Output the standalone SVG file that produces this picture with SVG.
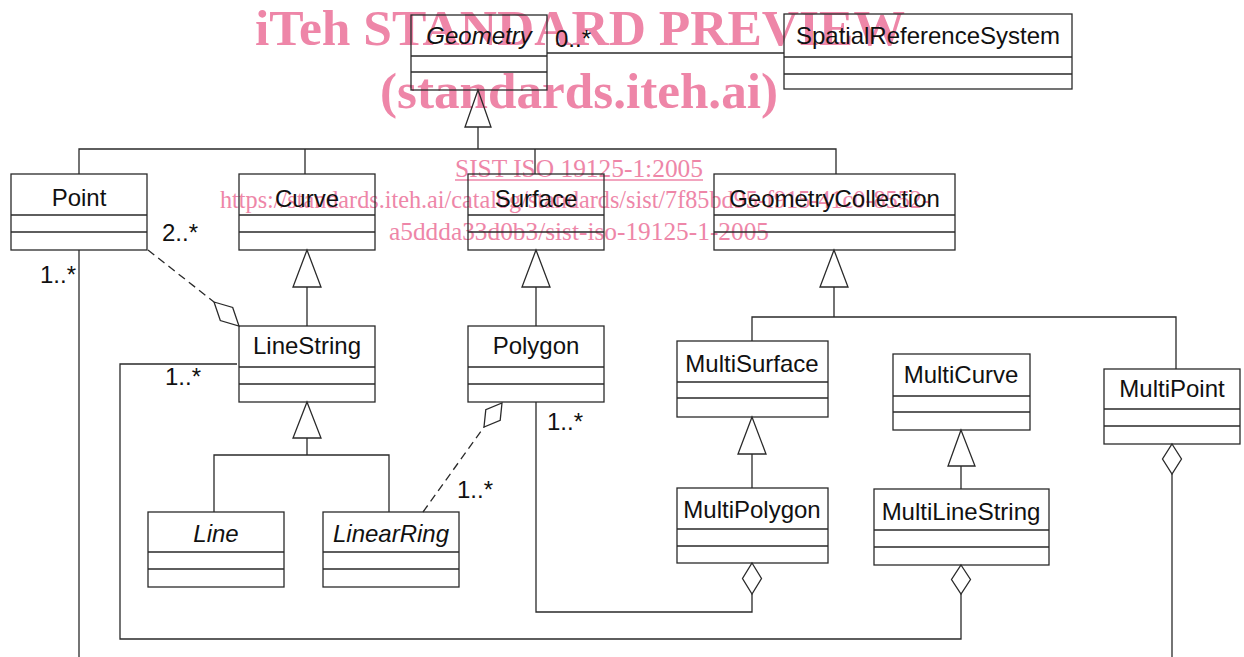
<svg xmlns="http://www.w3.org/2000/svg" width="1244" height="657" viewBox="0 0 1244 657">
<style>
.box{fill:none;stroke:#2a2a2a;stroke-width:1.3}
.ln{fill:none;stroke:#2a2a2a;stroke-width:1.3}
.dash{fill:none;stroke:#2a2a2a;stroke-width:1.3;stroke-dasharray:8 5}
.tri{fill:none;stroke:#2a2a2a;stroke-width:1.3;stroke-linejoin:miter}
.dia{fill:#fff;stroke:#2a2a2a;stroke-width:1.3}
.name{font-family:"Liberation Sans",Arial,Helvetica,sans-serif;font-size:24px;fill:#111;text-anchor:middle}
.it{font-style:italic}
.lbl{font-family:"Liberation Sans",Arial,Helvetica,sans-serif;font-size:24px;fill:#111}
.wmb{font-family:"Liberation Serif","Times New Roman",serif;font-weight:bold;font-size:50px;fill:#ee86a8}
.wmr{font-family:"Liberation Serif","Times New Roman",serif;font-size:25px;fill:#ee86a8}
</style>
<g id="watermark">
<text class="wmb" x="255" y="45" textLength="650" lengthAdjust="spacingAndGlyphs">iTeh STANDARD PREVIEW</text>
<text class="wmb" x="380" y="108" textLength="398" lengthAdjust="spacingAndGlyphs">(standards.iteh.ai)</text>
<text class="wmr" x="455" y="177" textLength="248" lengthAdjust="spacingAndGlyphs">SIST ISO 19125-1:2005</text>
<line x1="455" y1="180" x2="703" y2="180" stroke="#ee86a8" stroke-width="1.3"/>
<text class="wmr" x="220" y="208" textLength="710" lengthAdjust="spacingAndGlyphs">https://standards.iteh.ai/catalog/standards/sist/7f85bd95-f915-41c0-8552-</text>
<text class="wmr" x="389" y="240" textLength="380" lengthAdjust="spacingAndGlyphs">a5ddda33d0b3/sist-iso-19125-1-2005</text>
</g>
<g id="connectors">
<line class="ln" x1="547" y1="53" x2="784" y2="53"/>
<text class="lbl" x="555" y="47">0..*</text>
<polygon class="tri" points="478,90 465,127 491,127"/>
<path class="ln" d="M478,127 V149 M79,174 V149 H836 V174 M305,149 V174 M535,149 V174"/>
<polygon class="tri" points="307,250 293,287 321,287"/>
<line class="ln" x1="307" y1="287" x2="307" y2="326"/>
<polygon class="tri" points="536,250 522,287 550,287"/>
<line class="ln" x1="536" y1="287" x2="536" y2="326"/>
<polygon class="tri" points="834,250 820,287 848,287"/>
<path class="ln" d="M834,287 V317 M752,341 V317 H1176 V369"/>
<polygon class="tri" points="752,417 738,454 766,454"/>
<line class="ln" x1="752" y1="454" x2="752" y2="488"/>
<polygon class="tri" points="961,430 948,466 975,466"/>
<line class="ln" x1="961" y1="466" x2="961" y2="489"/>
<polygon class="tri" points="307,402 293,438 321,438"/>
<path class="ln" d="M307,438 V455 M214,512 V455 H389 V512"/>
<line class="dash" x1="148" y1="250" x2="214" y2="302"/>
<polygon class="dia" points="214,302 232.7,307.5 239,326 220.3,320.5"/>
<text class="lbl" x="162" y="241">2..*</text>
<line class="dash" x1="423" y1="512" x2="484" y2="427"/>
<polygon class="dia" points="502,403 500.2,420.4 484,427 485.8,409.6"/>
<text class="lbl" x="457" y="498">1..*</text>
<line class="ln" x1="79" y1="250" x2="79" y2="657"/>
<text class="lbl" x="40" y="283">1..*</text>
<path class="ln" d="M237,364 H120 V639 H961 V594"/>
<polygon class="dia" points="961,565 970.5,579.5 961,594 951.5,579.5"/>
<text class="lbl" x="165" y="385">1..*</text>
<path class="ln" d="M536,402 V612 H752 V594"/>
<polygon class="dia" points="752,563 761.5,578.5 752,594 742.5,578.5"/>
<text class="lbl" x="547" y="430">1..*</text>
<polygon class="dia" points="1172,444 1181.5,459 1172,474 1162.5,459"/>
<line class="ln" x1="1172" y1="474" x2="1172" y2="657"/>
</g>
<g id="Geometry"><rect class="box" x="411" y="15" width="136" height="75"/><path class="ln" d="M411,56 H547 M411,72 H547"/><text class="name it" x="479" y="44">Geometry</text></g>
<g id="SpatialReferenceSystem"><rect class="box" x="784" y="14" width="288" height="75"/><path class="ln" d="M784,57 H1072 M784,74 H1072"/><text class="name" x="928" y="44">SpatialReferenceSystem</text></g>
<g id="Point"><rect class="box" x="11" y="174" width="136" height="76"/><path class="ln" d="M11,215 H147 M11,232 H147"/><text class="name" x="79" y="206">Point</text></g>
<g id="Curve"><rect class="box" x="239" y="174" width="136" height="76"/><path class="ln" d="M239,215 H375 M239,232 H375"/><text class="name" x="307" y="207">Curve</text></g>
<g id="Surface"><rect class="box" x="468" y="174" width="136" height="76"/><path class="ln" d="M468,215 H604 M468,232 H604"/><text class="name" x="536" y="207">Surface</text></g>
<g id="GeometryCollection"><rect class="box" x="714" y="174" width="241" height="76"/><path class="ln" d="M714,215 H955 M714,232 H955"/><text class="name" x="834.5" y="207">GeometryCollection</text></g>
<g id="LineString"><rect class="box" x="239" y="326" width="136" height="76"/><path class="ln" d="M239,367 H375 M239,384 H375"/><text class="name" x="307" y="354">LineString</text></g>
<g id="Polygon"><rect class="box" x="468" y="326" width="136" height="76"/><path class="ln" d="M468,367 H604 M468,384 H604"/><text class="name" x="536" y="354">Polygon</text></g>
<g id="MultiSurface"><rect class="box" x="677" y="341" width="151" height="76"/><path class="ln" d="M677,382 H828 M677,398 H828"/><text class="name" x="752" y="372">MultiSurface</text></g>
<g id="MultiCurve"><rect class="box" x="893" y="354" width="137" height="76"/><path class="ln" d="M893,396 H1030 M893,412 H1030"/><text class="name" x="961" y="383">MultiCurve</text></g>
<g id="MultiPoint"><rect class="box" x="1104" y="369" width="136" height="75"/><path class="ln" d="M1104,409 H1240 M1104,426 H1240"/><text class="name" x="1172" y="397">MultiPoint</text></g>
<g id="Line"><rect class="box" x="148" y="512" width="136" height="75"/><path class="ln" d="M148,552 H284 M148,569 H284"/><text class="name it" x="216" y="542">Line</text></g>
<g id="LinearRing"><rect class="box" x="323" y="512" width="136" height="75"/><path class="ln" d="M323,552 H459 M323,569 H459"/><text class="name it" x="391" y="542">LinearRing</text></g>
<g id="MultiPolygon"><rect class="box" x="677" y="488" width="151" height="75"/><path class="ln" d="M677,529 H828 M677,546 H828"/><text class="name" x="752" y="518">MultiPolygon</text></g>
<g id="MultiLineString"><rect class="box" x="874" y="489" width="175" height="76"/><path class="ln" d="M874,530 H1049 M874,547 H1049"/><text class="name" x="961" y="520">MultiLineString</text></g>
</svg>
